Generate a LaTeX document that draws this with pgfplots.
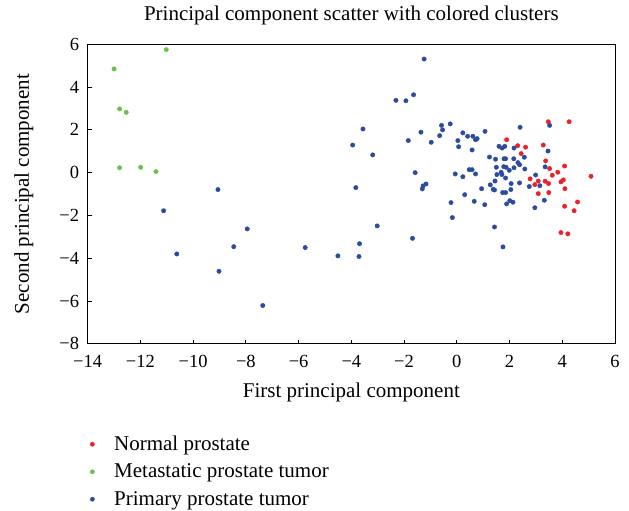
\documentclass[border=0pt]{standalone}
\usepackage{fontspec}
\setmainfont{Liberation Serif}
\usepackage{pgfplots}
\pgfplotsset{compat=1.18}
\definecolor{cred}{HTML}{E8232B}
\definecolor{cgreen}{HTML}{6CC04A}
\definecolor{cblue}{HTML}{2B4C9E}
\newcommand{\fs}{\fontsize{21bp}{25bp}\selectfont}
\newcommand{\ft}{\fontsize{18.5bp}{22bp}\selectfont}
\begin{document}
\begin{tikzpicture}
\path[use as bounding box] (-87.7bp,-167.2bp) rectangle (541.3bp,343.8bp);
\begin{axis}[
  at={(0,0)}, anchor=south west,
  scale only axis, width=527.3bp, height=299.5bp,
  xmin=-14, xmax=6, ymin=-8, ymax=6,
  xtick={-14,-12,-10,-8,-6,-4,-2,0,2,4,6},
  xticklabels={−14,−12,−10,−8,−6,−4,−2,0,2,4,6},
  ytick={-8,-6,-4,-2,0,2,4,6},
  yticklabels={−8,−6,−4,−2,0,2,4,6},
  tick align=inside, xtick pos=bottom, ytick pos=left,
  major tick length=4bp,
  axis line style={line width=0.9bp},
  every tick/.style={black, line width=0.8bp},
  tick label style={font=\ft, inner sep=0pt},
  xticklabel style={anchor=base, yshift=-23.5bp},
  yticklabel style={anchor=east, xshift=-8.5bp},
  title={Principal component scatter with colored clusters},
  title style={font=\fs, at={(0.5,1.061)}, anchor=base, inner sep=0pt},
  xlabel={First principal component},
  xlabel style={font=\fs, at={(0.5,-0.1803)}, anchor=base, inner sep=0pt},
  ylabel={Second principal component},
  ylabel style={font=\fs, at={(-0.1114,0.5)}, anchor=base, inner sep=0pt},
  legend style={at={(0.0045,-0.3012)}, anchor=north west, draw=none, fill=none,
    inner sep=0pt, outer sep=0pt, font=\fs,
    nodes={inner sep=0pt, text height=16bp, text depth=4.5bp},
    row sep=7bp, column sep=19.5bp},
  legend cell align=left,
  legend image code/.code={\fill[#1] (0bp,0bp) circle (2.1bp);},
  clip=false,
]
\addplot[only marks, mark=*, mark size=2.2bp, color=cred] coordinates {
(3.47,2.38) (4.26,2.38) (1.89,1.54) (2.31,1.26) (2.61,1.19) (3.28,1.29)
(2.44,0.89) (3.37,0.55) (3.52,0.19) (4.09,0.31) (3.83,0.02) (3.62,-0.12)
(5.09,-0.17) (2.78,-0.29) (3.09,-0.39) (3.35,-0.40) (3.95,-0.43) (4.04,-0.34)
(2.96,-0.56) (3.48,-0.51) (4.10,-0.75) (3.09,-0.98) (3.49,-0.93) (4.58,-1.37)
(4.09,-1.57) (4.45,-1.78) (3.95,-2.80) (4.21,-2.86)
};
\addlegendentry{Normal prostate}
\addplot[only marks, mark=*, mark size=2.2bp, color=cgreen] coordinates {
(-13.0,4.85) (-11.02,5.75) (-12.79,2.98) (-12.54,2.82) (-12.79,0.23)
(-11.99,0.25) (-11.41,0.05)
};
\addlegendentry{Metastatic prostate tumor}
\addplot[only marks, mark=*, mark size=2.2bp, color=cblue] coordinates {
(-9.06,-0.79) (-11.12,-1.78) (-10.62,-3.80) (-7.95,-2.63) (-8.46,-3.46)
(-9.02,-4.61) (-7.36,-6.21) (-5.75,-3.50) (-4.51,-3.89) (-3.83,-0.70)
(-3.02,-2.49) (-3.69,-3.32) (-3.71,-3.92) (-1.68,-3.07) (-1.58,0.0)
(-1.17,-0.53) (-1.28,-0.62) (-1.31,-0.76) (-0.22,-1.40) (-0.17,-2.10)
(0.30,-1.03) (0.66,-1.34) (1.06,-1.50) (0.94,-0.75) (-0.06,-0.06)
(0.23,-0.19) (0.71,-0.06) (-1.24,5.31) (-2.31,3.38) (-1.93,3.36)
(-1.64,3.64) (-3.56,2.04) (-3.95,1.29) (-3.19,0.83) (-1.84,1.50)
(-1.36,1.89) (-0.97,1.42) (-0.58,2.21) (-0.54,2.0) (-0.25,2.28)
(-0.65,1.73) (0.23,1.86) (0.41,1.70) (0.61,1.70) (0.04,1.50)
(0.07,1.21) (0.71,1.54) (0.77,1.59) (1.07,1.93) (0.58,1.06)
(0.47,0.14) (0.58,0.14) (2.40,2.12) (3.52,2.21) (1.60,1.23)
(1.72,1.15) (1.82,1.23) (2.17,1.15) (3.46,1.01) (2.56,0.72)
(1.24,0.73) (1.47,0.63) (1.79,0.65) (1.85,0.65) (2.16,0.65)
(2.32,0.47) (2.38,0.37) (1.50,0.25) (1.78,0.28) (1.87,0.25)
(2.17,0.23) (1.99,0.11) (2.58,0.17) (3.35,0.27) (2.99,-0.11)
(1.68,0.02) (1.71,-0.09) (1.52,-0.09) (1.85,-0.25) (3.15,-0.61)
(2.75,-0.65) (2.06,-0.51) (1.27,-0.57) (1.43,-0.81) (1.38,-0.78)
(2.38,-0.48) (1.45,-0.39) (2.05,-0.79) (1.74,-0.93) (1.85,-0.93)
(2.01,-1.31) (2.13,-1.38) (1.89,-1.46) (3.32,-1.29) (2.96,-1.64)
(1.43,-2.54) (1.75,-3.47)
};
\addlegendentry{Primary prostate tumor}
\end{axis}
\end{tikzpicture}
\end{document}
